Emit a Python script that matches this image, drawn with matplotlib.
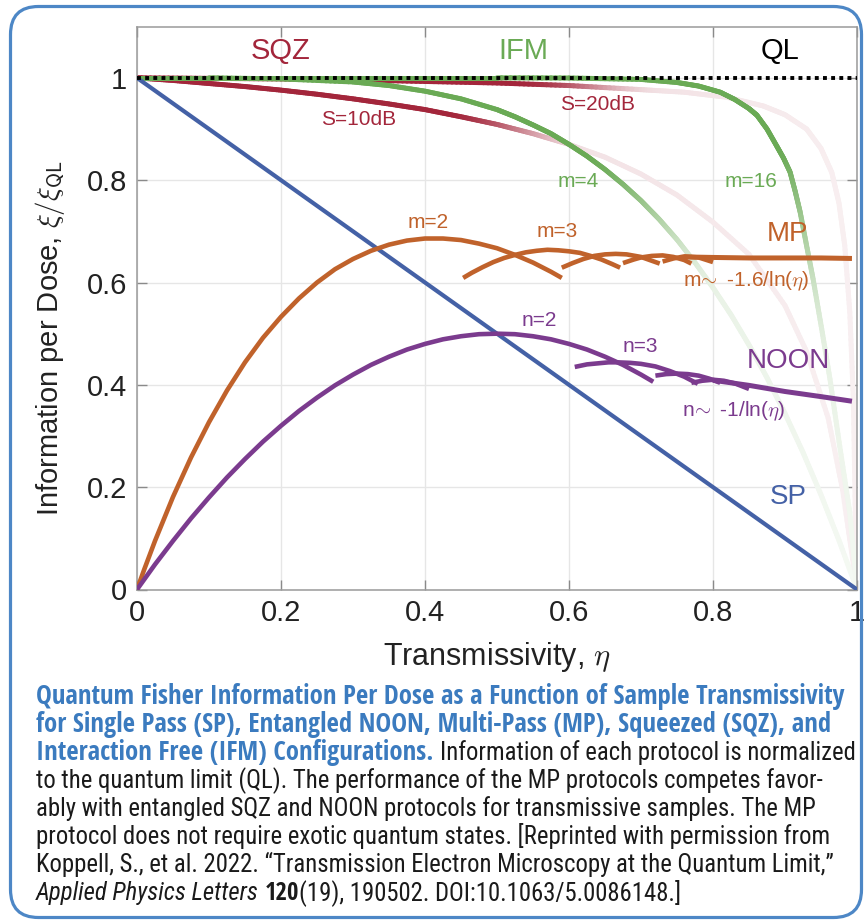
import numpy as np
import matplotlib
matplotlib.use('Agg')
import matplotlib.pyplot as plt
from matplotlib.collections import LineCollection
from matplotlib.patches import FancyBboxPatch
from matplotlib.transforms import IdentityTransform
from matplotlib import font_manager as fm
from matplotlib.colors import to_rgb

# ---------------- data ----------------
SP_eta = [0.0, 1.0]
SP_val = [1.0, 0.0]

QL_eta = [0.0, 1.0]
QL_val = [1.0, 1.0]

SQZ10_eta = [0.0, 0.05, 0.1, 0.15, 0.2, 0.25, 0.3, 0.35, 0.4, 0.45, 0.5, 0.55, 0.6,
             0.65, 0.7, 0.75, 0.8, 0.85, 0.9, 0.93, 0.96, 0.98, 1.0]
SQZ10_val = [1.0, 0.995, 0.989, 0.983, 0.976, 0.968, 0.959, 0.949, 0.938, 0.924, 0.909,
             0.891, 0.870, 0.845, 0.812, 0.771, 0.718, 0.655, 0.555, 0.465, 0.335, 0.195, 0.0]

SQZ20_eta = [0.0, 0.1, 0.2, 0.3, 0.4, 0.5, 0.6, 0.7, 0.76, 0.82, 0.87, 0.9, 0.93, 0.95,
             0.965, 0.975, 0.983, 0.99, 0.995, 0.998, 1.0]
SQZ20_val = [1.0, 0.999, 0.998, 0.996, 0.993, 0.990, 0.985, 0.977, 0.972, 0.962, 0.945,
             0.928, 0.900, 0.862, 0.815, 0.755, 0.672, 0.542, 0.370, 0.120, 0.0]

IFM4_eta = [0.0, 0.1, 0.2, 0.3, 0.35, 0.4, 0.45, 0.5, 0.525, 0.55, 0.575, 0.6, 0.625,
            0.65, 0.675, 0.7, 0.725, 0.75, 0.775, 0.8, 0.825, 0.85, 0.875, 0.9, 0.925,
            0.95, 0.975, 1.0]
IFM4_val = [1.0, 1.0, 0.998, 0.992, 0.985, 0.974, 0.959, 0.938, 0.924, 0.908, 0.891,
            0.870, 0.847, 0.821, 0.792, 0.760, 0.724, 0.684, 0.639, 0.590, 0.537, 0.478,
            0.414, 0.344, 0.268, 0.185, 0.096, 0.0]

IFM16_eta = [0.0, 0.5, 0.6, 0.7, 0.75, 0.78, 0.81, 0.83, 0.85, 0.861, 0.875, 0.888,
             0.898, 0.907, 0.914, 0.921, 0.93, 0.939, 0.951, 0.9625, 0.976, 0.99, 1.0]
IFM16_val = [1.0, 1.0, 0.9997, 0.997, 0.991, 0.984, 0.972, 0.958, 0.940, 0.927, 0.900,
             0.868, 0.843, 0.816, 0.779, 0.738, 0.672, 0.607, 0.509, 0.411, 0.280, 0.150, 0.0]

MP2_eta = [0.0, 0.01, 0.025, 0.05, 0.075, 0.1, 0.125, 0.15, 0.175, 0.2, 0.225, 0.25,
           0.275, 0.3, 0.325, 0.35, 0.375, 0.4, 0.425, 0.45, 0.475, 0.5, 0.525, 0.55,
           0.575, 0.59]
MP2_val = [0.0, 0.039, 0.095, 0.181, 0.258, 0.327, 0.389, 0.444, 0.492, 0.533, 0.569,
           0.600, 0.626, 0.646, 0.662, 0.674, 0.682, 0.686, 0.686, 0.683, 0.676, 0.667,
           0.654, 0.639, 0.621, 0.609]
MP3_eta = [0.453, 0.465, 0.48, 0.495, 0.51, 0.525, 0.54, 0.555, 0.57, 0.585, 0.60,
           0.615, 0.63, 0.645, 0.66, 0.671]
MP3_val = [0.609, 0.619, 0.630, 0.640, 0.648, 0.654, 0.659, 0.662, 0.664, 0.663, 0.661,
           0.658, 0.652, 0.645, 0.636, 0.629]
MP4_eta = [0.59, 0.605, 0.62, 0.635, 0.65, 0.665, 0.68, 0.70, 0.726]
MP4_val = [0.629, 0.638, 0.646, 0.652, 0.655, 0.656, 0.655, 0.650, 0.637]
MP5_eta = [0.675, 0.69, 0.70, 0.715, 0.73, 0.745, 0.76, 0.77]
MP5_val = [0.638, 0.645, 0.649, 0.652, 0.653, 0.650, 0.644, 0.637]
MP6_eta = [0.73, 0.745, 0.76, 0.78, 0.80]
MP6_val = [0.641, 0.647, 0.651, 0.649, 0.640]
MPtail_eta = [0.76, 0.80, 0.85, 0.90, 0.95, 0.993]
MPtail_val = [0.650, 0.649, 0.648, 0.648, 0.648, 0.647]

N2_eta = [0.0, 0.025, 0.05, 0.075, 0.1, 0.125, 0.15, 0.175, 0.2, 0.225, 0.25, 0.275,
          0.3, 0.325, 0.35, 0.375, 0.4, 0.425, 0.45, 0.475, 0.5, 0.525, 0.55, 0.575,
          0.6, 0.625, 0.65, 0.675, 0.7, 0.717]
N2_val = [0.0, 0.049, 0.095, 0.139, 0.180, 0.219, 0.255, 0.289, 0.320, 0.349, 0.375,
          0.399, 0.420, 0.439, 0.455, 0.469, 0.480, 0.489, 0.495, 0.499, 0.500, 0.499,
          0.495, 0.489, 0.480, 0.469, 0.455, 0.439, 0.420, 0.406]
N3_eta = [0.608, 0.625, 0.64, 0.655, 0.667, 0.685, 0.70, 0.72, 0.74, 0.76, 0.779]
N3_val = [0.435, 0.440, 0.442, 0.444, 0.444, 0.443, 0.441, 0.436, 0.427, 0.416, 0.402]
N4_eta = [0.72, 0.735, 0.75, 0.765, 0.78, 0.795, 0.81]
N4_val = [0.418, 0.421, 0.422, 0.421, 0.418, 0.412, 0.404]
N5_eta = [0.77, 0.785, 0.80, 0.815, 0.83, 0.85]
N5_val = [0.404, 0.408, 0.410, 0.408, 0.403, 0.392]
Ntail_eta = [0.80, 0.85, 0.90, 0.95, 0.993]
Ntail_val = [0.409, 0.399, 0.387, 0.377, 0.368]

XTICKS = [0, 0.2, 0.4, 0.6, 0.8, 1.0]
XTICKLABELS = ['0', '0.2', '0.4', '0.6', '0.8', '1']
YTICKS = [0, 0.2, 0.4, 0.6, 0.8, 1.0]
YTICKLABELS = ['0', '0.2', '0.4', '0.6', '0.8', '1']

CAPTION = [
    [('b', 'Quantum Fisher Information Per Dose as a Function of Sample Transmissivity')],
    [('b', 'for Single Pass (SP), Entangled NOON, Multi-Pass (MP), Squeezed (SQZ), and')],
    [('b', 'Interaction Free (IFM) Configurations.'), ('r', 'Information of each protocol is normalized')],
    [('r', 'to the quantum limit (QL). The performance of the MP protocols competes favor-')],
    [('r', 'ably with entangled SQZ and NOON protocols for transmissive samples. The MP')],
    [('r', 'protocol does not require exotic quantum states. [Reprinted with permission from')],
    [('r', 'Koppell, S., et al. 2022. \u201cTransmission Electron Microscopy at the Quantum Limit,\u201d')],
    [('i', 'Applied Physics Letters'), ('bb', '120'), ('r0', '(19), 190502. DOI:10.1063/5.0086148.]')],
]

# ---------------- style ----------------
W, H, DPI = 865, 924, 100
RED = '#a3263b'
GREEN = '#6aaa55'
ORANGE = '#c0622b'
PURPLE = '#7b3b8e'
BLUE = '#4461a6'
CAPBLUE = '#3b7bbf'
BORDER = '#4d87c6'

plt.rcParams['font.family'] = ['Liberation Sans', 'DejaVu Sans']
plt.rcParams['mathtext.fontset'] = 'cm'

fig = plt.figure(figsize=(W / DPI, H / DPI), dpi=DPI)
fig.patch.set_facecolor('white')

# rounded border
box = FancyBboxPatch((10.5, 6.5), 851, 911, boxstyle='round,pad=0,rounding_size=28',
                     transform=IdentityTransform(), facecolor='none', edgecolor=BORDER,
                     linewidth=2.3, zorder=0)
fig.patches.append(box)

AX_L, AX_R, AX_B, AX_T = 137, 857, 589.5, 26.7
ax = fig.add_axes([AX_L / W, 1 - AX_B / H, (AX_R - AX_L) / W, (AX_B - AX_T) / H])
ax.set_xlim(0, 1)
ax.set_ylim(0, 1.1)
ax.set_xticks(XTICKS)
ax.set_xticklabels(XTICKLABELS)
ax.set_yticks(YTICKS)
ax.set_yticklabels(YTICKLABELS)
ax.grid(True, color='#e6e6e6', linewidth=1.0, zorder=0)
ax.set_axisbelow(True)
ax.tick_params(direction='in', length=7, width=1.0, color='#8a8a8a', labelsize=21,
               labelcolor='#222222', top=True, right=True, pad=7)
for s in ax.spines.values():
    s.set_color('#9a9a9a')
    s.set_linewidth(1.1)


def faded(x, y, color, lw, f0, f1, amin, aend, z):
    x = np.asarray(x, float)
    y = np.asarray(y, float)
    base = np.array(to_rgb(color))
    segs, cols = [], []
    for i in range(len(x) - 1):
        n = 16
        t = np.linspace(0, 1, n + 1)
        xs = x[i] + (x[i + 1] - x[i]) * t
        ys = y[i] + (y[i + 1] - y[i]) * t
        for j in range(n):
            xm = 0.5 * (xs[j] + xs[j + 1])
            if xm <= f0:
                a = 1.0
            elif xm <= f1:
                u = (xm - f0) / (f1 - f0)
                a = 1.0 - (1.0 - amin) * (0.5 - 0.5 * np.cos(np.pi * u))
            else:
                u = (xm - f1) / max(1.0 - f1, 1e-6)
                a = amin + (aend - amin) * u
            segs.append([(xs[j], ys[j]), (xs[j + 1], ys[j + 1])])
            cols.append(tuple(base * a + (1 - a)))
    lc = LineCollection(segs, colors=cols, linewidths=lw, capstyle='round', zorder=z)
    ax.add_collection(lc)


# faint/fading curves
faded(SQZ10_eta, SQZ10_val, RED, 3.6, 0.43, 0.64, 0.13, 0.07, 2.0)
faded(SQZ20_eta, SQZ20_val, RED, 3.6, 0.53, 0.74, 0.13, 0.07, 2.1)
faded(IFM4_eta, IFM4_val, GREEN, 3.6, 0.62, 0.82, 0.14, 0.07, 2.2)
faded(IFM16_eta, IFM16_val, GREEN, 3.6, 0.89, 0.965, 0.14, 0.08, 2.3)

# solid curves
ax.plot(SP_eta, SP_val, color=BLUE, lw=3.0, zorder=3, solid_capstyle='round')
for ex, vy in [(MP2_eta, MP2_val), (MP3_eta, MP3_val), (MP4_eta, MP4_val),
               (MP5_eta, MP5_val), (MP6_eta, MP6_val)]:
    ax.plot(ex, vy, color=ORANGE, lw=3.3, zorder=3, solid_capstyle='butt',
            solid_joinstyle='round')
ax.plot(MPtail_eta, MPtail_val, color=ORANGE, lw=3.6, zorder=3, solid_capstyle='butt')
for ex, vy in [(N2_eta, N2_val), (N3_eta, N3_val), (N4_eta, N4_val), (N5_eta, N5_val)]:
    ax.plot(ex, vy, color=PURPLE, lw=3.3, zorder=3, solid_capstyle='butt',
            solid_joinstyle='round')
ax.plot(Ntail_eta, Ntail_val, color=PURPLE, lw=3.6, zorder=3, solid_capstyle='butt')

# quantum limit (dotted)
ax.plot(QL_eta, QL_val, color='black', lw=2.8, dashes=(1.0, 1.1), dash_capstyle='butt',
        zorder=4)

# labels inside the plot
big = 21
small = 15
ax.text(0.199, 1.052, 'SQZ', color=RED, fontsize=big, ha='center', va='center')
ax.text(0.536, 1.052, 'IFM', color=GREEN, fontsize=big, ha='center', va='center')
ax.text(0.893, 1.052, 'QL', color='black', fontsize=big, ha='center', va='center')
ax.text(0.308, 0.919, 'S=10dB', color=RED, fontsize=small, ha='center', va='center')
ax.text(0.639, 0.948, 'S=20dB', color=RED, fontsize=small, ha='center', va='center')
ax.text(0.6125, 0.797, 'm=4', color=GREEN, fontsize=small, ha='center', va='center')
ax.text(0.853, 0.797, 'm=16', color=GREEN, fontsize=small, ha='center', va='center')
ax.text(0.404, 0.717, 'm=2', color=ORANGE, fontsize=small, ha='center', va='center')
ax.text(0.583, 0.699, 'm=3', color=ORANGE, fontsize=small, ha='center', va='center')
ax.text(0.903, 0.695, 'MP', color=ORANGE, fontsize=20, ha='center', va='center')
ax.text(0.846, 0.603, r'm$\!\sim$ -1.6/ln($\eta$)', color=ORANGE, fontsize=small,
        ha='center', va='center')
ax.text(0.558, 0.525, 'n=2', color=PURPLE, fontsize=small, ha='center', va='center')
ax.text(0.699, 0.475, 'n=3', color=PURPLE, fontsize=small, ha='center', va='center')
ax.text(0.904, 0.446, 'NOON', color=PURPLE, fontsize=20, ha='center', va='center')
ax.text(0.829, 0.348, r'n$\!\sim$ -1/ln($\eta$)', color=PURPLE, fontsize=small,
        ha='center', va='center')
ax.text(0.904, 0.180, 'SP', color=BLUE, fontsize=20, ha='center', va='center')

ax.set_xlabel(r'Transmissivity, $\eta$', fontsize=22, color='#222222')
ax.xaxis.label.set_va('center')
ax.xaxis.set_label_coords(0.5, -0.12)
ax.set_ylabel(r'Information per Dose, $\xi/\xi_{\mathsf{QL}}$', fontsize=21, color='#222222')
ax.yaxis.set_label_coords(-0.097, 0.447)

# ---------------- caption ----------------
def wnum(f):
    w = f.weight
    if isinstance(w, str):
        w = fm.weight_dict.get(w, 400)
    return int(w)


def is_cond(f):
    return (f.stretch in ('condensed', 'semi-condensed', 'extra-condensed')
            or 'Condensed' in f.name or 'Narrow' in f.name)


PREF = ['Open Sans', 'Noto Sans', 'Roboto', 'Liberation Sans', 'DejaVu Sans', 'Lato', 'Inter']


def choose(weight, italic):
    best, bscore = None, 1e9
    for f in fm.fontManager.ttflist:
        if not f.fname.lower().endswith(('.ttf', '.otf')):
            continue
        fam = f.name
        pi = len(PREF)
        for k, p in enumerate(PREF):
            if fam.startswith(p):
                pi = k
                break
        if pi == len(PREF):
            continue
        it = f.style in ('italic', 'oblique')
        score = abs(wnum(f) - weight) / 100.0 + (0 if it == italic else 20) \
            + (0 if is_cond(f) else 8) + pi * 0.5
        if f.stretch == 'extra-condensed':
            score += 3
        if score < bscore:
            best, bscore = f, score
    if best is None:
        return fm.FontProperties(family='DejaVu Sans', weight=weight,
                                 style='italic' if italic else 'normal')
    return fm.FontProperties(fname=best.fname)


FP = {'r': choose(400, False), 'b': choose(700, False), 'i': choose(400, True),
      'bb': choose(700, False)}
FP['r0'] = FP['r']
COL = {'b': CAPBLUE, 'r': '#1a1a1a', 'i': '#1a1a1a', 'bb': '#1a1a1a', 'r0': '#1a1a1a'}

renderer = fig.canvas.get_renderer()


def twidth(s, fp, size):
    p = fp.copy()
    p.set_size(size)
    t = fig.text(0, 0, s, fontproperties=p)
    w = t.get_window_extent(renderer).width
    t.remove()
    return w


def space(fp, size):
    return twidth('a a', fp, size) - twidth('aa', fp, size)


BASE = 20.0
LEFT = 36.0
TARGETS = [805, 791, 815, 790, 778, 800, 779, 626]

# regular text size from the plain lines, bold size from the bold lines
reg_scales = [TARGETS[i] / twidth(CAPTION[i][0][1], FP['r'], BASE) for i in (3, 4, 5, 6)]
bold_scales = [TARGETS[i] / twidth(CAPTION[i][0][1], FP['b'], BASE) for i in (0, 1)]
SIZE = {'r': BASE * float(np.median(reg_scales)), 'b': BASE * float(np.mean(bold_scales))}
SIZE['i'] = SIZE['r']
SIZE['r0'] = SIZE['r']
SIZE['bb'] = SIZE['r']

for i, pieces in enumerate(CAPTION):
    x = LEFT
    yb = 704 + 28 * i
    for k, (st, s) in enumerate(pieces):
        sz = SIZE[st]
        p = FP[st].copy()
        p.set_size(sz)
        fig.text(x / W, 1 - yb / H, s, fontproperties=p, color=COL[st], va='baseline',
                 ha='left')
        x += twidth(s, FP[st], sz)
        if k < len(pieces) - 1 and pieces[k + 1][0] != 'r0':
            x += space(FP[st], sz)

fig.savefig('out.png', dpi=DPI, facecolor='white')
